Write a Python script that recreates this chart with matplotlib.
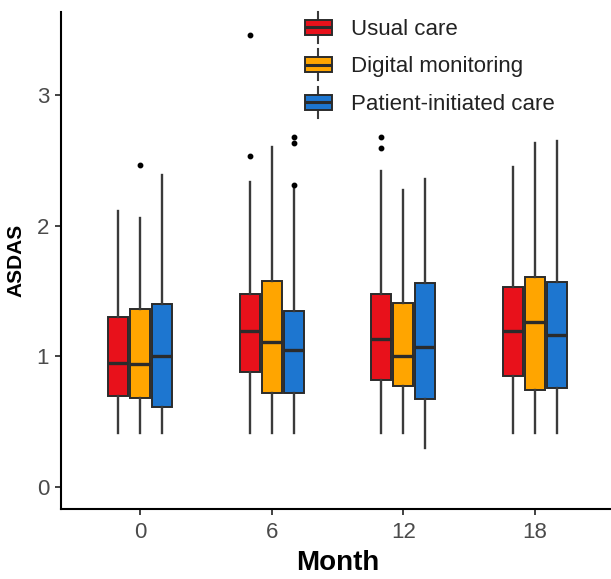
import matplotlib
matplotlib.use("Agg")
import matplotlib.pyplot as plt
from matplotlib.patches import Rectangle
from matplotlib.lines import Line2D
from matplotlib.legend_handler import HandlerBase

plt.rcParams['font.family'] = ['Liberation Sans', 'DejaVu Sans']

months = ['0', '6', '12', '18']
groups = ['Usual care', 'Digital monitoring', 'Patient-initiated care']
colors = ['#E8111B', '#FFA500', '#1D76D0']

usual_low = [0.41, 0.41, 0.41, 0.41]
usual_q1 = [0.70, 0.88, 0.82, 0.85]
usual_med = [0.95, 1.19, 1.13, 1.19]
usual_q3 = [1.30, 1.48, 1.48, 1.53]
usual_high = [2.11, 2.33, 2.42, 2.45]
usual_out = [[], [3.46, 2.53], [2.68, 2.59], []]

digital_low = [0.41, 0.41, 0.41, 0.41]
digital_q1 = [0.68, 0.72, 0.77, 0.74]
digital_med = [0.94, 1.11, 1.00, 1.26]
digital_q3 = [1.36, 1.58, 1.41, 1.61]
digital_high = [2.06, 2.60, 2.27, 2.63]
digital_out = [[2.46], [], [], []]

patient_low = [0.41, 0.41, 0.30, 0.41]
patient_q1 = [0.61, 0.72, 0.67, 0.76]
patient_med = [1.00, 1.05, 1.07, 1.16]
patient_q3 = [1.40, 1.35, 1.56, 1.57]
patient_high = [2.39, 2.28, 2.36, 2.65]
patient_out = [[], [2.68, 2.63, 2.31], [], []]

series = [
    (usual_low, usual_q1, usual_med, usual_q3, usual_high, usual_out),
    (digital_low, digital_q1, digital_med, digital_q3, digital_high, digital_out),
    (patient_low, patient_q1, patient_med, patient_q3, patient_high, patient_out),
]

W, H = 611, 579
fig = plt.figure(figsize=(W / 100, H / 100), dpi=100)
ax = fig.add_axes([61 / W, 70 / H, (614 - 61) / W, (567 - 70) / H])

slot = 0.167
boxw = 0.152
edge = '#2b2b2b'
for gi, (lo, q1, med, q3, hi, out) in enumerate(series):
    stats = []
    for mi in range(len(months)):
        stats.append(dict(whislo=lo[mi], q1=q1[mi], med=med[mi], q3=q3[mi],
                          whishi=hi[mi], fliers=out[mi]))
    pos = [mi + (gi - 1) * slot for mi in range(len(months))]
    ax.bxp(stats, positions=pos, widths=boxw, patch_artist=True,
           showcaps=False, manage_ticks=False,
           boxprops=dict(facecolor=colors[gi], edgecolor=edge, linewidth=1.4),
           whiskerprops=dict(color='#3a3a3a', linewidth=1.7),
           medianprops=dict(color=edge, linewidth=2.4, solid_capstyle='butt'),
           flierprops=dict(marker='o', markerfacecolor='black', markeredgecolor='black',
                           markersize=3.2, linestyle='none'))

ax.set_xlim(-0.6, 3.6)
ax.set_ylim(-0.168, 3.634)
ax.set_xticks(range(len(months)))
ax.set_xticklabels(months)
ax.set_yticks([0, 1, 2, 3])
ax.set_yticklabels(['0', '1', '2', '3'])

for s in ['top', 'right']:
    ax.spines[s].set_visible(False)
for s in ['left', 'bottom']:
    ax.spines[s].set_linewidth(1.5)
    ax.spines[s].set_color('black')
ax.tick_params(axis='both', length=4.5, width=1.3, color='#333333',
               labelcolor='#4a4a4a', labelsize=16)
ax.tick_params(axis='y', pad=4)
ax.tick_params(axis='x', pad=5)

ax.set_xlabel('Month', fontsize=20, fontweight='bold', labelpad=5)
ax.set_ylabel('ASDAS', fontsize=15, fontweight='bold', labelpad=8)


class BoxHandler(HandlerBase):
    def create_artists(self, legend, orig_handle, xdescent, ydescent, width, height,
                       fontsize, trans):
        x0, y0 = -xdescent, -ydescent
        xc = x0 + width / 2
        yc = y0 + height / 2
        fc = orig_handle.get_facecolor()
        wl = Line2D([xc, xc], [yc - height * 1.05, yc + height * 1.05],
                    color='#3a3a3a', linewidth=1.5, transform=trans)
        r = Rectangle((x0, y0), width, height, facecolor=fc, edgecolor=edge,
                      linewidth=1.4, transform=trans)
        ml = Line2D([x0, x0 + width], [yc, yc], color=edge, linewidth=2.2,
                    transform=trans, solid_capstyle='butt')
        return [wl, r, ml]


handles = [Rectangle((0, 0), 1, 1, facecolor=c) for c in colors]
leg = fig.legend(handles, groups, loc='upper left',
                 bbox_to_anchor=(305 / W, 1 - 19 / H), bbox_transform=fig.transFigure,
                 frameon=False, fontsize=16, handlelength=1.2, handleheight=0.65,
                 handletextpad=0.85, labelspacing=0.74, borderpad=0, borderaxespad=0,
                 handler_map={Rectangle: BoxHandler()})
for t in leg.get_texts():
    t.set_color('#222222')

fig.savefig('out.png', dpi=100)
